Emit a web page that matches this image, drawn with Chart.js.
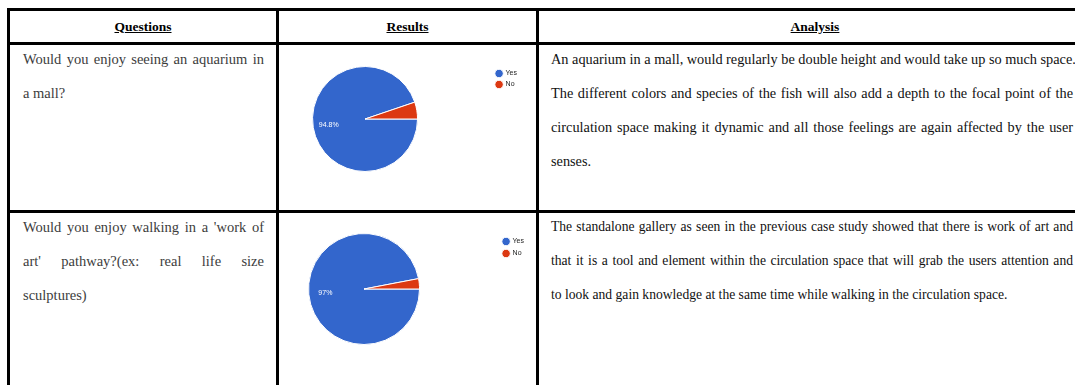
<!DOCTYPE html>
<html>
<head>
<meta charset="utf-8">
<script src="https://cdn.jsdelivr.net/npm/chart.js"></script>
<style>
  html, body { margin: 0; padding: 0; background: #fff; }
  body { position: relative; width: 1075px; height: 385px; overflow: hidden; font-family: "Liberation Serif", "Times New Roman", serif; }
  table.survey { position: absolute; left: 7px; top: 8px; border-collapse: collapse; table-layout: fixed; width: 1084px; }
  table.survey td, table.survey th { border: 3px solid #000; padding: 0; vertical-align: top; }
  table.survey th { height: 31px; font-size: 13.5px; font-weight: bold; text-decoration: underline; vertical-align: middle; text-align: center; color: #000; }
  .row1 td { height: 165px; }
  .row2 td { height: 200px; }
  .q { padding: 0 12px 0 13px !important; color: #3c3c3c; font-size: 14.5px; }
  .a { padding: 0 0 0 12px !important; color: #111; font-size: 14.3px; }
  .row2 .a { font-size: 13.6px; }
  .lines { margin-top: -3px; }
  .lines div { line-height: 34px; text-align: justify; text-align-last: justify; white-space: nowrap; }
  .lines div:last-child { text-align-last: left; }
  .a .lines div { width: 522px; }
  canvas { position: absolute; }
  #aquariumPie { left: 238px; top: 45px; }
  #artPathPie { left: 230px; top: 214px; }
</style>
</head>
<body>
<table class="survey">
  <colgroup><col style="width:269px"><col style="width:260px"><col style="width:555px"></colgroup>
  <tr><th>Questions</th><th>Results</th><th>Analysis</th></tr>
  <tr class="row1"><td class="q"><div class="lines" id="q1"></div></td><td></td><td class="a"><div class="lines" id="a1"></div></td></tr>
  <tr class="row2"><td class="q"><div class="lines" id="q2"></div></td><td></td><td class="a"><div class="lines" id="a2"></div></td></tr>
</table>
<canvas id="aquariumPie" width="300" height="164"></canvas>
<canvas id="artPathPie" width="310" height="171"></canvas>
<script>
// survey answers, percent of respondents
const answerLabels = ['Yes', 'No'];
const aquariumShares = [94.8, 5.2];
const artPathShares = [97, 3];
const sliceColors = ['#3366cc', '#dc3912'];

const q1Lines = ['Would you enjoy seeing an aquarium in', 'a mall?'];
const q2Lines = ["Would you enjoy walking in a 'work of", "art'  pathway?(ex:  real  life  size", 'sculptures)'];
const a1Lines = [
  'An aquarium in a mall, would regularly be double height and would take up so much space.',
  'The different colors and species of the fish will also add a depth to the focal point of the',
  'circulation space making it dynamic and all those feelings are again affected by the user',
  'senses.',
];
const a2Lines = [
  'The standalone gallery as seen in the previous case study showed that there is work of art and',
  'that it is a tool and element within the circulation space that will grab the users attention and',
  'to look and gain knowledge at the same time while walking in the circulation space.',
];

const fillLines = (id, lines) => {
  const box = document.getElementById(id);
  lines.forEach((text) => {
    const line = document.createElement('div');
    line.textContent = text;
    box.appendChild(line);
  });
};
fillLines('q1', q1Lines);
fillLines('q2', q2Lines);
fillLines('a1', a1Lines);
fillLines('a2', a2Lines);

// white percentage text inside the big slice
const sliceLabels = {
  id: 'sliceLabels',
  afterDatasetsDraw(chart) {
    const { ctx } = chart;
    const values = chart.data.datasets[0].data;
    const total = values.reduce((a, b) => a + b, 0);
    chart.getDatasetMeta(0).data.forEach((arc, i) => {
      const share = (values[i] / total) * 100;
      if (share < 10) return;
      const { x, y, startAngle, endAngle, outerRadius } = arc.getProps(['x', 'y', 'startAngle', 'endAngle', 'outerRadius'], true);
      const mid = (startAngle + endAngle) / 2;
      const r = outerRadius * 0.7;
      ctx.save();
      ctx.fillStyle = '#fff';
      ctx.font = '7px "Liberation Sans", Arial, sans-serif';
      ctx.textAlign = 'center';
      ctx.textBaseline = 'middle';
      ctx.fillText(`${+share.toFixed(1)}%`, x + Math.cos(mid) * r, y + Math.sin(mid) * r);
      ctx.restore();
    });
  },
};

const makePie = (canvasId, shares, padding, legendGap) =>
  new Chart(document.getElementById(canvasId), {
    type: 'pie',
    data: {
      labels: answerLabels,
      datasets: [
        {
          data: shares,
          backgroundColor: sliceColors,
          borderColor: '#fff',
          borderWidth: 1,
        },
      ],
    },
    options: {
      responsive: false,
      animation: false,
      rotation: 90,
      layout: { padding },
      plugins: {
        legend: {
          position: 'right',
          align: 'start',
          labels: {
            usePointStyle: true,
            pointStyle: 'circle',
            boxWidth: 6,
            boxHeight: 6,
            padding: legendGap,
            color: '#222',
            font: { size: 7, family: '"Liberation Sans", Arial, sans-serif' },
          },
        },
        tooltip: { enabled: false },
      },
    },
    plugins: [sliceLabels],
  });

makePie('aquariumPie', aquariumShares, { top: 21, bottom: 37, left: 0, right: 11 }, 4);
makePie('artPathPie', artPathShares, { top: 19, bottom: 40, left: 0, right: 6 }, 5);
</script>
</body>
</html>
